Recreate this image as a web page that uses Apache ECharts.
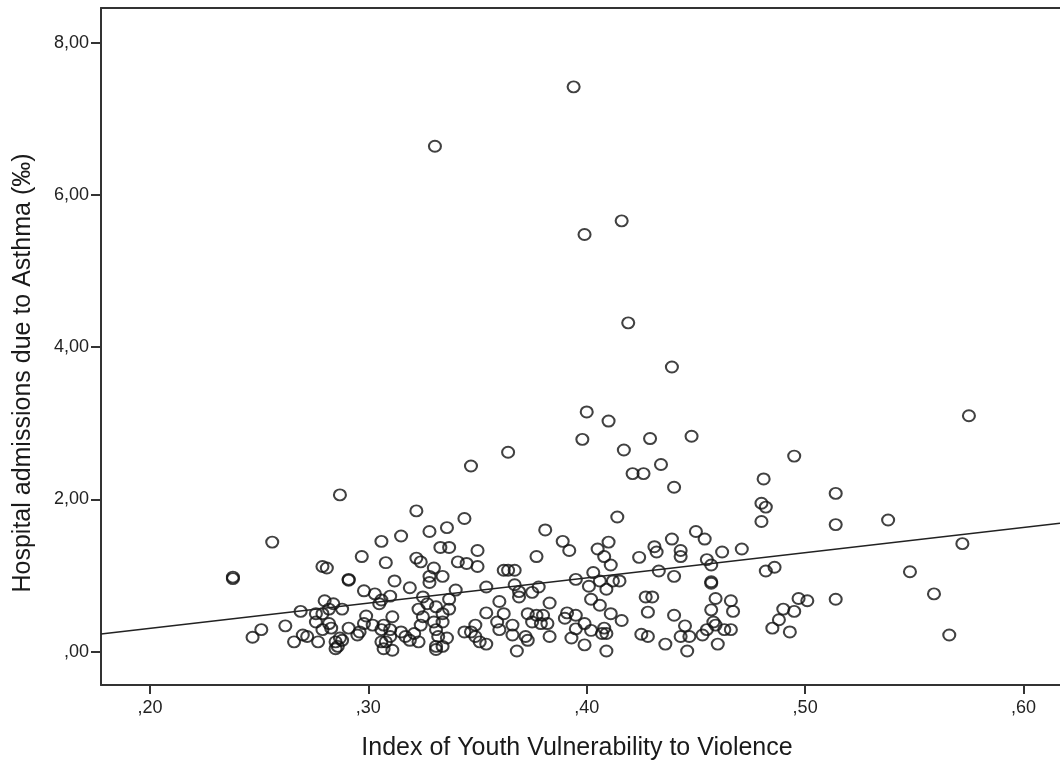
<!DOCTYPE html>
<html>
<head>
<meta charset="utf-8">
<title>Asthma admissions vs youth vulnerability</title>
<script src="https://cdn.jsdelivr.net/npm/echarts@6/dist/echarts.min.js"></script>
<style>
  html, body { margin: 0; padding: 0; background: #fff; }
  #chart { width: 1060px; height: 768px; }
</style>
</head>
<body>
<div id="chart"></div>
<script>
'use strict';

// index of youth vulnerability (x) for each neighbourhood
var ivjv = [
    0.394, 0.3305, 0.416, 0.399, 0.419, 0.439, 0.400, 0.410, 0.398, 0.429,
    0.448, 0.417, 0.434, 0.421, 0.426, 0.440, 0.364, 0.347, 0.287,
    0.575, 0.495, 0.481, 0.514, 0.480, 0.482, 0.480, 0.514, 0.538, 0.471,
    0.572, 0.482, 0.486, 0.548, 0.559, 0.497, 0.501, 0.514, 0.490, 0.495,
    0.488, 0.485, 0.493, 0.566,
    0.414, 0.389, 0.392, 0.405, 0.410, 0.408, 0.411, 0.424, 0.431, 0.432,
    0.439, 0.443, 0.443, 0.450, 0.454, 0.462, 0.455, 0.457, 0.395, 0.403,
    0.401, 0.406, 0.409, 0.412, 0.415, 0.433, 0.440, 0.457, 0.457, 0.402,
    0.406, 0.427, 0.430, 0.459, 0.466, 0.391, 0.395, 0.390, 0.411, 0.416,
    0.428, 0.440, 0.457, 0.467, 0.399, 0.395, 0.402, 0.408, 0.409, 0.407,
    0.425, 0.428, 0.445, 0.443, 0.447, 0.453, 0.455, 0.458, 0.459, 0.463,
    0.466, 0.393, 0.399, 0.409, 0.436, 0.446, 0.460,
    0.322, 0.344, 0.315, 0.328, 0.336, 0.306, 0.381, 0.333, 0.337, 0.350,
    0.377, 0.308, 0.322, 0.324, 0.341, 0.345, 0.350, 0.330, 0.328, 0.334,
    0.328, 0.362, 0.364, 0.367, 0.312, 0.319, 0.340, 0.354, 0.367, 0.369,
    0.369, 0.378, 0.310, 0.306, 0.325, 0.337, 0.360, 0.375, 0.383, 0.323,
    0.327, 0.331, 0.337, 0.354, 0.362, 0.373, 0.377, 0.380, 0.311, 0.325,
    0.330, 0.334, 0.359, 0.360, 0.366, 0.375, 0.379, 0.382, 0.307, 0.310,
    0.315, 0.317, 0.321, 0.323, 0.331, 0.332, 0.331, 0.331, 0.336, 0.344,
    0.347, 0.349, 0.349, 0.351, 0.354, 0.366, 0.372, 0.373, 0.383, 0.308,
    0.311, 0.368, 0.334, 0.319, 0.324, 0.334,
    0.256, 0.297, 0.279, 0.281, 0.238, 0.238, 0.291, 0.291, 0.298, 0.303,
    0.280, 0.284, 0.288, 0.305, 0.269, 0.276, 0.279, 0.282, 0.276, 0.279,
    0.283, 0.299, 0.298, 0.302, 0.296, 0.295, 0.306, 0.251, 0.247, 0.262,
    0.266, 0.270, 0.272, 0.285, 0.287, 0.285, 0.286, 0.277, 0.310, 0.282,
    0.291, 0.288, 0.306, 0.307
];

// hospital admissions due to asthma, per mille (y)
var admissions = [
    7.42, 6.64, 5.66, 5.48, 4.32, 3.74, 3.15, 3.03, 2.79, 2.80,
    2.83, 2.65, 2.46, 2.34, 2.34, 2.16, 2.62, 2.44, 2.06,
    3.10, 2.57, 2.27, 2.08, 1.95, 1.90, 1.71, 1.67, 1.73, 1.35,
    1.42, 1.06, 1.11, 1.05, 0.76, 0.70, 0.67, 0.69, 0.56, 0.53,
    0.42, 0.31, 0.26, 0.22,
    1.77, 1.45, 1.33, 1.35, 1.44, 1.25, 1.14, 1.24, 1.38, 1.31,
    1.48, 1.33, 1.25, 1.58, 1.48, 1.31, 1.21, 1.14, 0.95, 1.04,
    0.86, 0.93, 0.82, 0.93, 0.93, 1.06, 0.99, 0.92, 0.90, 0.69,
    0.61, 0.72, 0.72, 0.70, 0.67, 0.51, 0.48, 0.44, 0.50, 0.41,
    0.52, 0.48, 0.55, 0.53, 0.37, 0.30, 0.28, 0.31, 0.24, 0.24,
    0.23, 0.20, 0.34, 0.20, 0.20, 0.22, 0.29, 0.39, 0.35, 0.29,
    0.29, 0.18, 0.09, 0.01, 0.10, 0.01, 0.10,
    1.85, 1.75, 1.52, 1.58, 1.63, 1.45, 1.60, 1.37, 1.37, 1.33,
    1.25, 1.17, 1.23, 1.18, 1.18, 1.16, 1.12, 1.10, 0.99, 0.99,
    0.91, 1.07, 1.07, 1.07, 0.93, 0.84, 0.81, 0.85, 0.88, 0.79,
    0.72, 0.85, 0.73, 0.68, 0.72, 0.69, 0.66, 0.78, 0.64, 0.56,
    0.63, 0.59, 0.56, 0.51, 0.50, 0.50, 0.48, 0.48, 0.46, 0.46,
    0.39, 0.39, 0.39, 0.29, 0.35, 0.39, 0.37, 0.37, 0.35, 0.29,
    0.26, 0.20, 0.24, 0.13, 0.29, 0.20, 0.07, 0.03, 0.18, 0.26,
    0.26, 0.35, 0.20, 0.13, 0.10, 0.22, 0.20, 0.15, 0.20, 0.13,
    0.02, 0.01, 0.50, 0.15, 0.35, 0.07,
    1.44, 1.25, 1.12, 1.10, 0.98, 0.96, 0.95, 0.94, 0.80, 0.76,
    0.67, 0.63, 0.56, 0.63, 0.53, 0.50, 0.50, 0.37, 0.39, 0.29,
    0.31, 0.47, 0.37, 0.35, 0.26, 0.22, 0.29, 0.29, 0.19, 0.34,
    0.13, 0.22, 0.20, 0.13, 0.18, 0.04, 0.07, 0.13, 0.20, 0.56,
    0.31, 0.15, 0.13, 0.04
];

// fit line, read at the two ends of the visible plot
var fitX = [0.1776, 0.6167];
var fitY = [0.233, 1.687];

var xTicks = [0.2, 0.3, 0.4, 0.5, 0.6];
var xTickLabels = [',20', ',30', ',40', ',50', ',60'];
var yTicks = [0, 2, 4, 6, 8];
var yTickLabels = [',00', '2,00', '4,00', '6,00', '8,00'];

var xTitle = 'Index of Youth Vulnerability to Violence';
var yTitle = 'Hospital admissions due to Asthma (\u2030)';

var points = ivjv.map(function (x, i) {
    return [x, admissions[i]];
});
var fitLine = fitX.map(function (x, i) {
    return [x, fitY[i]];
});

function tickLabel(ticks, labels) {
    return function (value) {
        for (var i = 0; i < ticks.length; i++) {
            if (Math.abs(ticks[i] - value) < 1e-6) return labels[i];
        }
        return '';
    };
}

var FONT = '"Liberation Sans", Arial, sans-serif';
var INK = '#222';
var AXIS = '#333';

var X_MIN = 0.1776, X_MAX = 0.6167;

var myChart = echarts.init(document.getElementById('chart'));
myChart.setOption({
    animation: false,
    backgroundColor: '#fff',
    grid: {
        left: 101,
        top: 8,
        bottom: 83,
        right: 0
    },
    xAxis: [{
        type: 'value',
        min: X_MIN,
        max: X_MAX,
        splitLine: { show: false },
        axisLine: { onZero: false, lineStyle: { color: AXIS, width: 2 } },
        axisTick: {
            length: 9,
            lineStyle: { color: AXIS, width: 2 },
            customValues: xTicks
        },
        axisLabel: {
            customValues: xTicks,
            formatter: tickLabel(xTicks, xTickLabels),
            color: INK,
            fontFamily: FONT,
            fontSize: 18,
            margin: 14
        }
    }, {
        // top frame line only
        type: 'value',
        position: 'top',
        min: X_MIN,
        max: X_MAX,
        splitLine: { show: false },
        axisLine: { onZero: false, lineStyle: { color: AXIS, width: 2 } },
        axisTick: { show: false },
        axisLabel: { show: false }
    }],
    yAxis: {
        type: 'value',
        min: -0.437,
        max: 8.456,
        splitLine: { show: false },
        axisLine: { onZero: false, lineStyle: { color: AXIS, width: 2 } },
        axisTick: {
            length: 10,
            lineStyle: { color: AXIS, width: 2 },
            customValues: yTicks
        },
        axisLabel: {
            customValues: yTicks,
            formatter: tickLabel(yTicks, yTickLabels),
            color: INK,
            fontFamily: FONT,
            fontSize: 18,
            margin: 12
        }
    },
    graphic: [{
        type: 'text',
        x: 577,
        y: 748,
        style: {
            text: xTitle,
            align: 'center',
            verticalAlign: 'middle',
            fill: '#1a1a1a',
            font: '25px ' + FONT
        }
    }, {
        type: 'text',
        x: 23,
        y: 373,
        rotation: Math.PI / 2,
        style: {
            text: yTitle,
            align: 'center',
            verticalAlign: 'middle',
            fill: '#1a1a1a',
            font: '25px ' + FONT
        }
    }],
    series: [{
        type: 'line',
        xAxisIndex: 0,
        data: fitLine,
        showSymbol: false,
        symbol: 'none',
        lineStyle: { color: '#222', width: 1.5 },
        z: 3
    }, {
        type: 'scatter',
        xAxisIndex: 0,
        data: points,
        symbol: 'circle',
        symbolSize: [12, 11],
        itemStyle: {
            color: 'rgba(255,255,255,0)',
            borderColor: '#111',
            borderWidth: 2
        },
        z: 2
    }]
});
</script>
</body>
</html>
